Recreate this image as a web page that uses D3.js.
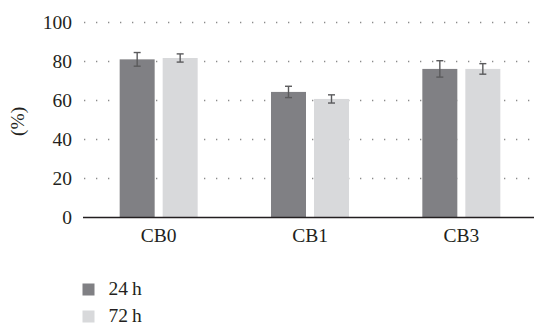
<!DOCTYPE html>
<html>
<head>
<meta charset="utf-8">
<script src="https://cdn.jsdelivr.net/npm/d3@7"></script>
<style>
  html, body { margin: 0; padding: 0; background: #fff; }
  svg { display: block; }
  text { font-family: "Liberation Serif", "DejaVu Serif", serif; fill: #231f20; }
</style>
</head>
<body>
<svg id="chart" width="534" height="325"></svg>
<script>
// Samples and exposure times
const categories = ["CB0", "CB1", "CB3"];
const seriesNames = ["24\u2009h", "72\u2009h"];
// Mean values (%) per sample
const values24 = [81.1, 64.4, 76.2];
const values72 = [81.8, 60.8, 76.2];
// Error bar half-widths (%)
const errors24 = [3.5, 2.9, 4.2];
const errors72 = [2.1, 2.1, 2.7];
const yTicks = [0, 20, 40, 60, 80, 100];
const colors = ["#808084", "#d8d9db"];

const fontSize = 19.5;
const svg = d3.select("#chart");
const margin = { left: 83, right: -3, top: 22.5, bottom: 107.5 };
const width = 534, height = 325;

const x0 = d3.scaleBand().domain(categories)
  .range([margin.left, width - margin.right]).paddingInner(0).paddingOuter(0);
const y = d3.scaleLinear().domain([0, 100]).range([height - margin.bottom, margin.top]);

// Dotted gridlines
svg.append("g").selectAll("line").data(yTicks.filter(d => d > 0)).join("line")
  .attr("x1", margin.left + 1).attr("x2", width)
  .attr("y1", d => y(d)).attr("y2", d => y(d))
  .attr("stroke", "#8a8a8a").attr("stroke-width", 1.3)
  .attr("stroke-dasharray", "1.3,10.7");

// Y axis tick labels
const yAxis = d3.axisLeft(y).tickValues(yTicks).tickSize(0).tickPadding(11);
const yg = svg.append("g").attr("transform", `translate(${margin.left},0)`).call(yAxis);
yg.select(".domain").remove();
yg.selectAll("text").attr("font-size", fontSize).style("font-family", '"Liberation Serif", serif').attr("fill", "#231f20");

// Bars with error bars
const series = [values24, values72];
const errs = [errors24, errors72];
const barW = 35;
const groups = svg.append("g").selectAll("g").data(categories).join("g")
  .attr("transform", d => `translate(${x0(d) + x0.bandwidth() / 2 - 39},0)`);

groups.each(function (cat, ci) {
  const g = d3.select(this);
  seriesNames.forEach((s, si) => {
    const v = series[si][ci];
    const e = errs[si][ci];
    const bx = si === 0 ? 0 : 43;
    g.append("rect")
      .attr("x", bx).attr("width", barW)
      .attr("y", y(v)).attr("height", y(0) - y(v))
      .attr("fill", colors[si]);
    const cx = bx + barW / 2;
    const eb = g.append("g").attr("stroke", "#5a5a5c").attr("stroke-width", 1.4);
    eb.append("line").attr("x1", cx).attr("x2", cx).attr("y1", y(v + e)).attr("y2", y(v - e));
    eb.append("line").attr("x1", cx - 3.5).attr("x2", cx + 3.5).attr("y1", y(v + e)).attr("y2", y(v + e));
    eb.append("line").attr("x1", cx - 3.5).attr("x2", cx + 3.5).attr("y1", y(v - e)).attr("y2", y(v - e));
  });
});

// X axis
const xAxis = d3.axisBottom(x0).tickSize(0).tickPadding(11);
const xg = svg.append("g").attr("transform", `translate(0,${y(0)})`).call(xAxis);
xg.select(".domain").attr("stroke", "#231f20").attr("stroke-width", 1.3)
  .attr("d", `M${margin.left},0H${width}`);
xg.selectAll("text").attr("font-size", fontSize).style("font-family", '"Liberation Serif", serif').attr("fill", "#231f20");

// Y axis title
svg.append("text")
  .attr("transform", `translate(24,121.5) rotate(-90)`)
  .attr("text-anchor", "middle")
  .attr("font-size", fontSize)
  .text("(%)");

// Legend
const legend = svg.append("g").selectAll("g").data(seriesNames).join("g")
  .attr("transform", (d, i) => `translate(82.5,${283.5 + i * 27})`);
legend.append("rect").attr("width", 12).attr("height", 12).attr("fill", (d, i) => colors[i]);
legend.append("text").attr("x", 26).attr("y", 11.5).attr("font-size", fontSize).text(d => d);
</script>
</body>
</html>
